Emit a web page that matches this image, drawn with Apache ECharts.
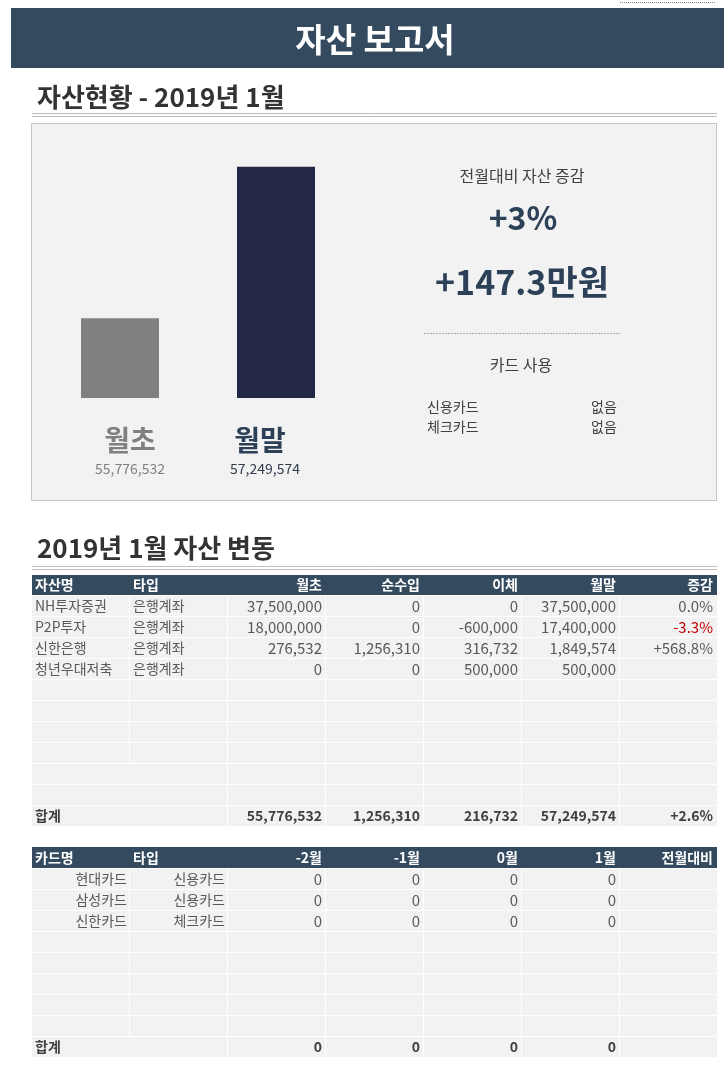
<!DOCTYPE html>
<html><head><meta charset="utf-8">
<script src="https://cdn.jsdelivr.net/npm/echarts@6/dist/echarts.min.js"></script>
<style>html,body{margin:0;padding:0;background:#fff;}#c{width:724px;height:1068px;}</style>
</head><body><div id="c"></div>
<script>
// ---- data ----
const reportTitle = '자산 보고서';
const sectionTitle1 = '자산현황 - 2019년 1월';
const sectionTitle2 = '2019년 1월 자산 변동';
const barCategories = ['월초', '월말'];
const barValues = [55776532, 57249574];
const changeLabel = '전월대비 자산 증감';
const changePct = '+3%';
const changeAmount = '+147.3만원';
const cardUsageTitle = '카드 사용';
const cardUsageTypes = ['신용카드', '체크카드'];
const cardUsageValues = ['없음', '없음'];

const assetHeaders = ['자산명', '타입', '월초', '순수입', '이체', '월말', '증감'];
const assetNames = ['NH투자증권', 'P2P투자', '신한은행', '청년우대저축'];
const assetTypes = ['은행계좌', '은행계좌', '은행계좌', '은행계좌'];
const assetStart = [37500000, 18000000, 276532, 0];
const assetIncome = [0, 0, 1256310, 0];
const assetTransfer = [0, -600000, 316732, 500000];
const assetEnd = [37500000, 17400000, 1849574, 500000];
const assetChange = ['0.0%', '-3.3%', '+568.8%', ''];
const assetTotalLabel = '합계';
const assetTotals = [55776532, 1256310, 216732, 57249574];
const assetTotalChange = '+2.6%';

const cardHeaders = ['카드명', '타입', '-2월', '-1월', '0월', '1월', '전월대비'];
const cardNames = ['현대카드', '삼성카드', '신한카드'];
const cardTypes = ['신용카드', '신용카드', '체크카드'];
const cardM2 = [0, 0, 0];
const cardM1 = [0, 0, 0];
const cardM0 = [0, 0, 0];
const cardP1 = [0, 0, 0];
const cardTotalLabel = '합계';
const cardTotals = [0, 0, 0, 0];

// ---- drawing helpers ----
const FF = "'Noto Sans CJK KR','Noto Sans',sans-serif";
const fmt = v => v.toLocaleString('en-US');
const els = [];
function rect(x, y, w, h, fill, stroke, z) {
  els.push({type: 'rect', z: z == null ? 0 : z, shape: {x, y, width: w, height: h},
    style: {fill: fill || 'none', stroke: stroke || null, lineWidth: 1}, silent: true});
}
function line(x1, y1, x2, y2, stroke, dash, z) {
  els.push({type: 'line', z: z == null ? 1 : z, shape: {x1, y1, x2, y2},
    style: {stroke, lineWidth: 1, lineDash: dash || null}, silent: true});
}
function text(x, y, str, size, color, weight, align, z) {
  els.push({type: 'text', z: z == null ? 5 : z, silent: true,
    style: {x, y, text: str, fill: color, font: (weight || 'normal') + ' ' + size + 'px ' + FF,
      textAlign: align || 'left', align: align || 'left',
      textVerticalAlign: 'middle', verticalAlign: 'middle'}});
}

// top dotted mark
line(620, 2.5, 716, 2.5, '#888', [1, 1]);
// header bar
rect(11, 8, 713, 60, '#344a5f');
text(375, 39, reportTitle, 33, '#ffffff', 'bold', 'center');
// section 1
text(37, 97, sectionTitle1, 26, '#333333', 'bold', 'left');
line(32, 113.5, 717, 113.5, '#bdbdbd');
line(32, 116.5, 717, 116.5, '#bdbdbd');
rect(31.5, 123.5, 685, 377, '#f2f2f2', '#c3c3c3', -1);

// bar labels
const barLabelColors = ['#808080', '#2e4057'];
const barValueColors = ['#808080', '#333d4d'];
const barLabelX = [130, 260];
const barValueX = [130, 265];
barCategories.forEach((c, i) => {
  text(barLabelX[i], 440, c, 28, barLabelColors[i], 'bold', 'center');
  text(barValueX[i], 469, fmt(barValues[i]), 14, barValueColors[i], 'normal', 'center');
});

// right summary panel
text(522, 176, changeLabel, 16, '#404040', 'normal', 'center');
text(523, 218, changePct, 32, '#2c4058', 'bold', 'center');
text(522, 282, changeAmount, 34, '#2c4058', 'bold', 'center');
line(424, 333.5, 620, 333.5, '#aaaaaa', [2, 1]);
text(521, 365, cardUsageTitle, 16, '#404040', 'normal', 'center');
cardUsageTypes.forEach((t, i) => {
  text(427, 407 + i * 20, t, 14, '#404040', 'normal', 'left');
  text(591, 407 + i * 20, cardUsageValues[i], 14, '#404040', 'normal', 'left');
});

// section 2
text(37, 548, sectionTitle2, 26, '#333333', 'bold', 'left');
line(32, 566.5, 717, 566.5, '#c8c0b8');
line(32, 569.5, 717, 569.5, '#c8c0b8');

const colEdges = [32, 130, 228, 326, 424, 522, 620, 717];
const alignOf = c => c < 2 ? 'left' : 'right';
const xOf = (c, align) => align === 'left' ? colEdges[c] + 3 : colEdges[c + 1] - 4;

function drawTable(headerTop, headerH, headers, rows, nRows, firstSepRows) {
  rect(colEdges[0], headerTop, colEdges[7] - colEdges[0], headerH, '#344a5f');
  headers.forEach((h, c) => {
    const a = alignOf(c);
    text(xOf(c, a), headerTop + headerH / 2, h, 14, '#ffffff', 'bold', a);
  });
  const top = headerTop + headerH;
  const rh = 21;
  rect(colEdges[0], top, colEdges[7] - colEdges[0], rh * nRows, '#f2f2f2', null, 0);
  for (let r = 0; r <= nRows; r++) line(colEdges[0], top + r * rh + 0.5, colEdges[7], top + r * rh + 0.5, '#ffffff');
  for (let r = 0; r < nRows; r++) {
    for (let c = 1; c < 7; c++) {
      if (c === 1 && r >= firstSepRows) continue;
      line(colEdges[c] - 0.5, top + r * rh, colEdges[c] - 0.5, top + (r + 1) * rh, '#ffffff');
    }
  }
  rows.forEach((row, r) => {
    row.forEach((cell, c) => {
      if (cell == null || cell === '') return;
      const a = cell.align || alignOf(c);
      const x = cell.x != null ? cell.x : xOf(c, a);
      text(x, top + r * rh + 11, cell.t, cell.size || 14, cell.color || '#595959', cell.weight || 'normal', a);
    });
  });
}

// asset table
const NUM = 15;
const assetRows = [];
assetNames.forEach((n, i) => {
  assetRows.push([
    {t: n}, {t: assetTypes[i]}, {t: fmt(assetStart[i]), size: NUM}, {t: fmt(assetIncome[i]), size: NUM},
    {t: fmt(assetTransfer[i]), size: NUM}, {t: fmt(assetEnd[i]), size: NUM},
    assetChange[i] ? {t: assetChange[i], size: NUM, color: assetChange[i][0] === '-' ? '#c00000' : '#595959'} : null
  ]);
});
for (let k = 0; k < 6; k++) assetRows.push([]);
assetRows.push([
  {t: assetTotalLabel, weight: 'bold', color: '#404040'}, null,
  ...assetTotals.map(v => ({t: fmt(v), weight: 'bold', color: '#404040'})),
  {t: assetTotalChange, weight: 'bold', color: '#404040'}
]);
drawTable(575, 20, assetHeaders, assetRows, 11, 8);

// card table
const cardRows = [];
cardNames.forEach((n, i) => {
  cardRows.push([
    {t: n, align: 'right', x: 127}, {t: cardTypes[i], align: 'right', x: 225},
    {t: fmt(cardM2[i]), size: NUM}, {t: fmt(cardM1[i]), size: NUM}, {t: fmt(cardM0[i]), size: NUM}, {t: fmt(cardP1[i]), size: NUM}, null
  ]);
});
for (let k = 0; k < 5; k++) cardRows.push([]);
cardRows.push([
  {t: cardTotalLabel, weight: 'bold', color: '#404040'}, null,
  ...cardTotals.map(v => ({t: fmt(v), weight: 'bold', color: '#404040'})), null
]);
drawTable(847, 21, cardHeaders, cardRows, 9, 8);

const chart = echarts.init(document.getElementById('c'), null, {renderer: 'canvas'});
chart.setOption({
  animation: false,
  backgroundColor: '#ffffff',
  grid: {left: 42, width: 312, top: 141, height: 257, containLabel: false},
  xAxis: {type: 'category', data: barCategories, axisLine: {show: false}, axisTick: {show: false},
    axisLabel: {show: false}, splitLine: {show: false}},
  yAxis: {type: 'value', min: 55000000, max: 57500000, show: false, splitLine: {show: false}},
  series: [{
    type: 'bar', barWidth: 78, z: 3,
    data: barValues.map((v, i) => ({value: v, itemStyle: {color: ['#808080', '#222845'][i]}}))
  }],
  graphic: {elements: els}
});
</script></body></html>
